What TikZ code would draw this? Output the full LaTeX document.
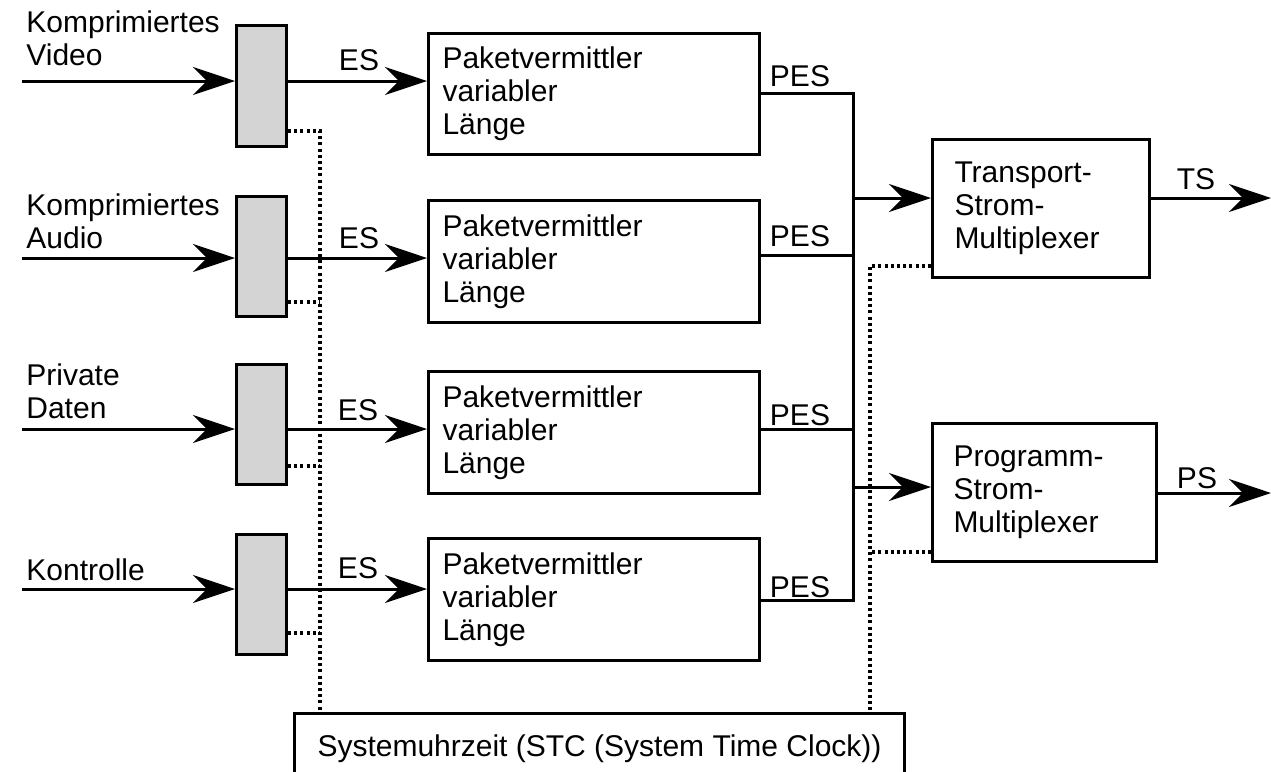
\documentclass[tikz,border=0pt]{standalone}
\usepackage{fontspec}
\setmainfont{Liberation Sans}
\usetikzlibrary{arrows.meta}
\begin{document}
\begin{tikzpicture}[x=0.5pt,y=-0.5pt,
  every node/.style={font=\fontsize{15pt}{16.5pt}\selectfont, inner sep=0pt},
  ln/.style={line width=1.5pt},
  arr/.style={ln, -{Stealth[length=21pt,width=14pt,inset=7pt]}},
  dot/.style={line width=1.9pt, dash pattern=on 1.5pt off 1.6pt},
  gbox/.style={draw, ln, fill=black!17, anchor=north west, minimum width=25pt},
  pbox/.style={draw, ln, anchor=north west, minimum width=165.5pt, minimum height=61pt,
    inner xsep=7pt, text width=151.5pt, align=left},
  lbl/.style={anchor=west, align=left}
]
\clip (0,0) rectangle (1271,772);
% input labels
\node[lbl] (l1) at (26,38.5) {Komprimiertes\\Video};
\node[lbl] (l2) at (26,221) {Komprimiertes\\Audio};
\node[lbl] (l3) at (26,391.5) {Private\\Daten};
\node[lbl] (l4) at (26,570) {Kontrolle};
% gray boxes
\node[gbox, minimum height=60.5pt] (g1) at (235,24) {};
\node[gbox, minimum height=60pt] (g2) at (235,195) {};
\node[gbox, minimum height=60pt] (g3) at (235,363) {};
\node[gbox, minimum height=60pt] (g4) at (235,533) {};
% packetizers
\node[pbox, minimum height=60.5pt] (p1) at (427,32) {Paketvermittler\\variabler\\Länge};
\node[pbox] (p2) at (427,199) {Paketvermittler\\variabler\\Länge};
\node[pbox] (p3) at (427,370) {Paketvermittler\\variabler\\Länge};
\node[pbox] (p4) at (427,537) {Paketvermittler\\variabler\\Länge};
% multiplexers
\node[draw, ln, anchor=north west, minimum width=108.5pt, minimum height=69pt,
  inner xsep=11pt, text width=86.5pt, align=left] (T) at (931,138) {Transport-\\Strom-\\Multiplexer};
\node[draw, ln, anchor=north west, minimum width=112pt, minimum height=69pt,
  inner xsep=10.5pt, text width=91pt, align=left] (P) at (931,422) {Programm-\\Strom-\\Multiplexer};
% system clock
\node[draw, ln, anchor=north west, minimum width=305pt, minimum height=35pt] (S) at (293,712)
  {Systemuhrzeit (STC (System Time Clock))};
% inputs
\coordinate (i1) at (22,81);
\coordinate (i2) at (22,258);
\coordinate (i3) at (22,429);
\coordinate (i4) at (22,589);
\foreach \k in {1,2,3,4}{
  \draw[arr] (i\k) -- (i\k -| g\k.west);
  \draw[arr] (i\k -| g\k.east) -- (i\k -| p\k.west);
}
\node (es1) at (359,60) {ES};
\node (es2) at (359,238) {ES};
\node (es3) at (358,410) {ES};
\node (es4) at (358,568) {ES};
% PES bus
\coordinate (b1) at (853,93);
\coordinate (b2) at (853,255);
\coordinate (b3) at (853,429);
\coordinate (b4) at (853,600);
\draw[ln] (b1 -| p1.east) -- (b1) -- (b4) -- (b4 -| p4.east);
\draw[ln] (b2 -| p2.east) -- (b2);
\draw[ln] (b3 -| p3.east) -- (b3);
\node (pes1) at (800,76) {PES};
\node (pes2) at (800,236) {PES};
\node (pes3) at (800,415) {PES};
\node (pes4) at (800,587) {PES};
% to multiplexers
\coordinate (bt) at (853,198);
\coordinate (bp) at (853,487);
\draw[arr] (bt) -- (bt -| T.west);
\draw[arr] (bp) -- (bp -| P.west);
\coordinate (tsend) at (1271,198);
\coordinate (psend) at (1271,493);
\draw[arr] (tsend -| T.east) -- (tsend);
\draw[arr] (psend -| P.east) -- (psend);
\node (ts) at (1196,179) {TS};
\node (ps) at (1197,478) {PS};
% dotted clock lines left
\coordinate (d1) at (320,131);
\coordinate (d2) at (320,302);
\coordinate (d3) at (320,466);
\coordinate (d4) at (320,633);
\draw[dot] (d1 -| g1.east) -- (d1) -- (d1 |- S.north);
\draw[dot] (d2 -| g2.east) -- (d2);
\draw[dot] (d3 -| g3.east) -- (d3);
\draw[dot] (d4 -| g4.east) -- (d4);
% dotted clock lines right
\coordinate (dt) at (870,266);
\coordinate (dp) at (870,552);
\draw[dot] (dt -| T.west) -- (dt) -- (dt |- S.north);
\draw[dot] (dp -| P.west) -- (dp);
\end{tikzpicture}
\end{document}
